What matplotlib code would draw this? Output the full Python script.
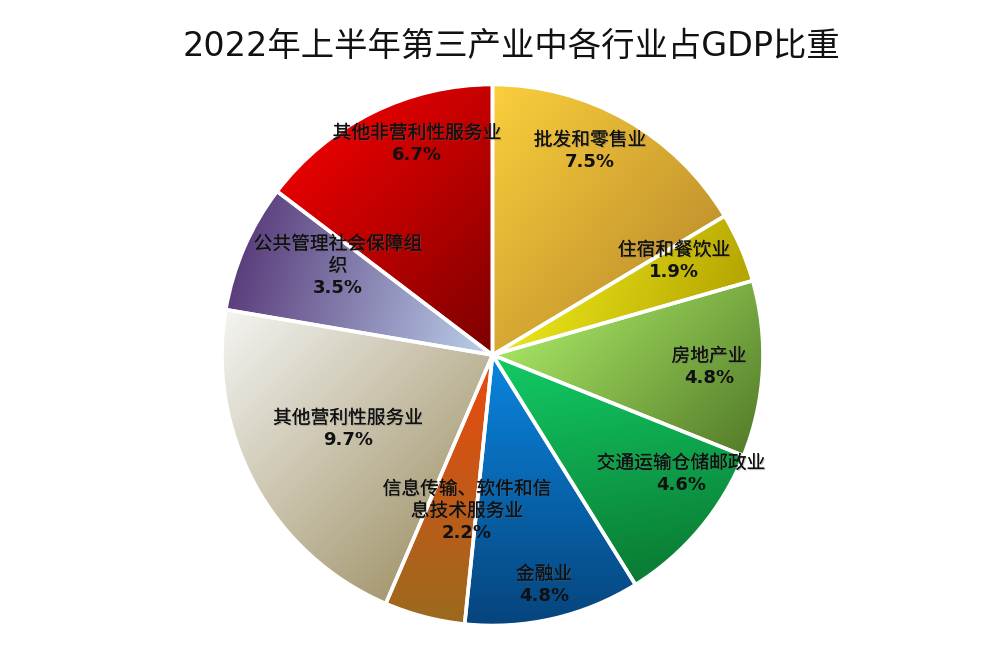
import matplotlib
matplotlib.use('Agg')
import matplotlib.pyplot as plt
import matplotlib.patheffects as pe
import numpy as np
from matplotlib.colors import to_rgb

plt.rcParams['font.family'] = ['DejaVu Sans', 'Noto Sans CJK SC']

# data
industries = ['批发和零售业', '住宿和餐饮业', '房地产业', '交通运输仓储邮政业', '金融业',
              '信息传输、软件和信\n息技术服务业', '其他营利性服务业', '公共管理社会保障组\n织', '其他非营利性服务业']
shares = [7.5, 1.9, 4.8, 4.6, 4.8, 2.2, 9.7, 3.5, 6.7]
pct_labels = ['7.5%', '1.9%', '4.8%', '4.6%', '4.8%', '2.2%', '9.7%', '3.5%', '6.7%']

# gradient colours (light, dark) and direction in degrees
grad_light = ['#fbcf3c', '#ece81a', '#a6e463', '#12cc66', '#0a86e0', '#ee4810', '#f4f4f2', '#5a3d7c', '#e60000']
grad_dark = ['#c4952e', '#b4a400', '#557d2a', '#0a7a32', '#06447c', '#9a6a1e', '#a69a72', '#bcd2ec', '#7c0000']
grad_dir = [-40, -20, -45, -80, -90, -90, -45, -15, -45]

# label centres in pixels (first line)
label_px = [(590, 140), (674, 250), (709, 356), (681, 463), (544, 574),
            (467, 489), (348, 418), (338, 244), (417, 133)]

W, H = 985, 650
cx, cy, R = 492.5, 355, 270.5
lim = 1.01

fig = plt.figure(figsize=(W / 100, H / 100), dpi=100)
ax = fig.add_axes([(cx - R * lim) / W, (H - cy - R * lim) / H, 2 * R * lim / W, 2 * R * lim / H])

wedges, _ = ax.pie(shares, startangle=90, counterclock=False, radius=1,
                   wedgeprops=dict(edgecolor='white', linewidth=2.6))
ax.set_xlim(-lim, lim)
ax.set_ylim(-lim, lim)
ax.set_aspect('equal')
ax.axis('off')

n = 600
xs = np.linspace(-lim, lim, n)
X, Y = np.meshgrid(xs, xs)

for i, w in enumerate(wedges):
    phi = np.radians(grad_dir[i])
    d = np.array([np.cos(phi), np.sin(phi)])
    verts = w.get_path().vertices
    tv = verts @ d
    T = (X * d[0] + Y * d[1] - tv.min()) / (tv.max() - tv.min())
    T = np.clip(T, 0, 1)[..., None]
    c1 = np.array(to_rgb(grad_light[i]))
    c2 = np.array(to_rgb(grad_dark[i]))
    img = c1 + (c2 - c1) * T
    im = ax.imshow(img, extent=(-lim, lim, -lim, lim), origin='lower',
                   interpolation='bilinear', zorder=1)
    im.set_clip_path(w)
    w.set_facecolor('none')
    w.set_zorder(2)

shadow = [pe.withSimplePatchShadow(offset=(0.8, -0.8), shadow_rgbFace='#666666', alpha=0.35), pe.Normal()]

for i, (px, py) in enumerate(label_px):
    lines = industries[i].split('\n')
    for k, line in enumerate(lines):
        fig.text(px / W, 1 - (py + 22 * k) / H, line, ha='center', va='center',
                 fontsize=13.5, color='#111111', path_effects=shadow)
    fig.text(px / W, 1 - (py + 22 * len(lines)) / H, pct_labels[i], ha='center', va='center',
             fontsize=13, fontweight='bold', color='#111111')

fig.text(511 / W, 1 - 46 / H, '2022年上半年第三产业中各行业占GDP比重', ha='center', va='center',
         fontsize=24, color='#111111')

fig.savefig('out.png', dpi=100)
